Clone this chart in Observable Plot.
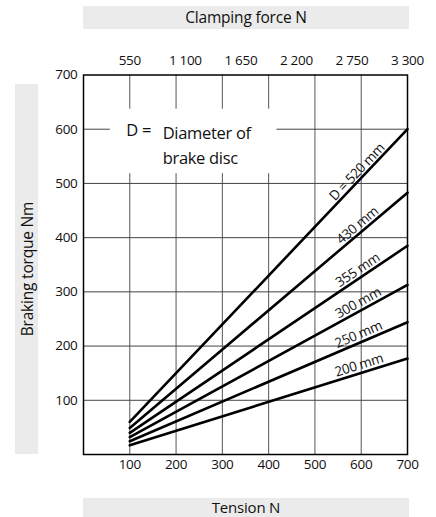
<!DOCTYPE html>
<html>
<head>
<meta charset="utf-8">
<script src="https://cdn.jsdelivr.net/npm/d3@7"></script>
<script src="https://cdn.jsdelivr.net/npm/@observablehq/plot@0.6"></script>
<style>
  html, body { margin: 0; padding: 0; background: #fff; }
  #wrap { position: relative; width: 436px; height: 517px; overflow: hidden; font-family: "Open Sans", sans-serif; }
  .band { position: absolute; background: #ebebeb; color: #111; font-size: 15.5px; text-align: center; letter-spacing: -0.2px; }
  #top { left: 83px; top: 6px; width: 326px; height: 23px; line-height: 23px; }
  #bottom { left: 83px; top: 498px; width: 326px; height: 19px; line-height: 18px; font-size: 15px; }
  #left { left: 15px; top: 84px; width: 23px; height: 370px; }
  #left span { position: absolute; left: 50%; top: 50%; white-space: nowrap; transform: translate(-50%, -50%) rotate(-90deg); }
  #chart { position: absolute; left: 0; top: 0; }
  #chart svg text { letter-spacing: -0.3px; }
</style>
</head>
<body>
<div id="wrap">
  <div class="band" id="top">Clamping force N</div>
  <div class="band" id="left"><span>Braking torque Nm</span></div>
  <div class="band" id="bottom">Tension N</div>
  <div id="chart"></div>
</div>
<script>
// Data
const diameters = ["D = 520 mm", "430 mm", "355 mm", "300 mm", "250 mm", "200 mm"];
const tensionRange = [100, 700];
const torqueAtStart = [60, 49, 40, 32, 24.5, 17];
const torqueAtEnd = [600, 483, 385, 313, 244, 177];
const tensionTicks = [100, 200, 300, 400, 500, 600, 700];
const clampingTicks = [550, 1100, 1650, 2200, 2750, 3300];
const clampingTickLabels = ["550", "1\u00a0100", "1\u00a0650", "2\u00a0200", "2\u00a0750", "3\u00a0300"];
const torqueTicks = [100, 200, 300, 400, 500, 600, 700];
const gridTicks = [100, 200, 300, 400, 500, 600];

// Layout
const W = 436, H = 517;
const mT = 74.5, mB = 63, mL = 83, mR = 29;
const kx = (W - mL - mR) / 700, ky = (H - mT - mB) / 700;

// clamping-force axis runs linearly from 550 (at tension 100) to 3 300 (at tension 700)
const c0 = clampingTicks[0], c1 = clampingTicks[clampingTicks.length - 1];
const clampToTension = c => tensionRange[0] + (c - c0) * (tensionRange[1] - tensionRange[0]) / (c1 - c0);
const clampPos = clampingTicks.map(clampToTension);

const lines = [];
diameters.forEach((d, i) => {
  lines.push({d, t: tensionRange[0], m: torqueAtStart[i]});
  lines.push({d, t: tensionRange[1], m: torqueAtEnd[i]});
});

const labelX = 598;
const labels = diameters.map((d, i) => {
  const s = torqueAtStart[i], e = torqueAtEnd[i];
  const y = s + (e - s) * (labelX - tensionRange[0]) / (tensionRange[1] - tensionRange[0]);
  const ang = -Math.atan2((e - s) * ky, (tensionRange[1] - tensionRange[0]) * kx) * 180 / Math.PI;
  return {d, x: labelX, y, ang};
});

const chart = Plot.plot({
  width: W, height: H,
  marginTop: mT, marginBottom: mB, marginLeft: mL, marginRight: mR,
  style: {fontFamily: "Open Sans, sans-serif", fontSize: "13.5px", color: "#111", background: "transparent"},
  x: {domain: [0, 700]},
  y: {domain: [0, 700]},
  marks: [
    Plot.ruleX(gridTicks, {stroke: "#555", strokeWidth: 1}),
    Plot.ruleY(gridTicks, {stroke: "#444", strokeWidth: 1}),
    // legend box background
    Plot.rect([0], {x1: 58, x2: 418, y1: 518, y2: 637, fill: "white"}),
    Plot.text(["D ="], {x: 146, y: 597, textAnchor: "end", fontSize: 16.5, fill: "#111"}),
    Plot.text(["Diameter of\nbrake disc"], {x: 171, y: 574, textAnchor: "start", fontSize: 16.5, lineHeight: 1.5, fill: "#111"}),
    Plot.line(lines, {x: "t", y: "m", z: "d", stroke: "black", strokeWidth: 2.6}),
    Plot.text(labels, {x: "x", y: "y", text: "d", rotate: "ang", lineAnchor: "bottom", textAnchor: "middle", dy: -4, fontSize: 13.5, fill: "#111"}),
    Plot.frame({stroke: "black", strokeWidth: 1.5}),
    Plot.axisX(tensionTicks, {anchor: "bottom", tickSize: 0, tickPadding: 5, label: null, fontSize: 13.5}),
    Plot.axisX(clampPos, {anchor: "top", tickSize: 0, tickPadding: 10, label: null, fontSize: 13.5,
      tickFormat: (d) => clampingTickLabels[clampPos.indexOf(d)]}),
    Plot.axisY(torqueTicks, {anchor: "left", tickSize: 0, tickPadding: 6, label: null, fontSize: 13.5})
  ]
});
document.getElementById("chart").appendChild(chart);
</script>
</body>
</html>
